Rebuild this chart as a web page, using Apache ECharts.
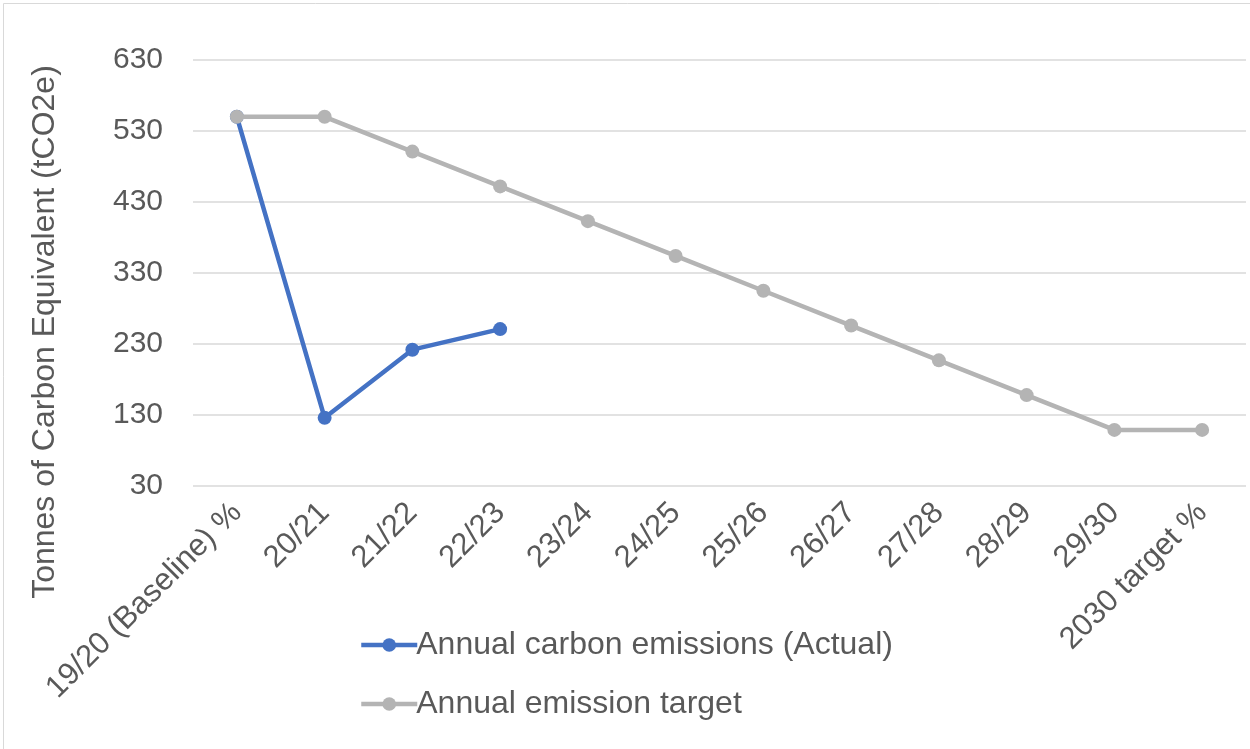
<!DOCTYPE html>
<html><head><meta charset="utf-8">
<script src="https://cdn.jsdelivr.net/npm/echarts@6/dist/echarts.min.js"></script>
<style>html,body{margin:0;padding:0;background:#fff}#c{width:1250px;height:749px}</style>
</head><body><div id="c"></div>
<script>
const categories = ['19/20 (Baseline) %','20/21','21/22','22/23','23/24','24/25','25/26','26/27','27/28','28/29','29/30','2030 target %'];
const actual = [550, 126, 222, 251, null, null, null, null, null, null, null, null];
const target = [550, 550, 501, 452, 403, 354, 305, 256, 207, 158, 109, 109];
const yTicks = [30, 130, 230, 330, 430, 530, 630];
const yTitle = 'Tonnes of Carbon Equivalent (tCO2e)';
const seriesNames = ['Annual carbon emissions (Actual)', 'Annual emission target'];

const chart = echarts.init(document.getElementById('c'));
const font = 'Arial, "Liberation Sans", sans-serif';
chart.setOption({
  animation: false,
  graphic: [
    {type:'rect', shape:{x:3.5,y:3.5,width:1260,height:760}, style:{fill:'none', stroke:'#d9d9d9', lineWidth:1}, silent:true},
    {type:'text', x: 45, y: 332, rotation: Math.PI/2, silent: true,
     style:{text: yTitle, fontSize: 32, fill:'#595959', fontFamily: font, align:'center', verticalAlign:'middle'}}
  ],
  grid: {left: 193, right: 4, top: 60, bottom: 263},
  legend: {
    orient: 'vertical', left: 354, top: 624, itemWidth: 56, itemHeight: 17, itemGap: 27,
    lineStyle: {width: 4.5},
    textStyle: {fontSize: 32, color: '#595959', fontFamily: font, padding:[0,0,0,-6]},
    data: seriesNames
  },
  xAxis: {
    type: 'category', data: categories, boundaryGap: true,
    axisLine: {show: false}, axisTick: {show: false},
    axisLabel: {rotate: 45, fontSize: 31, color: '#595959', fontFamily: font, margin: 22, interval: 0}
  },
  yAxis: {
    type: 'value', min: yTicks[0], max: yTicks[yTicks.length-1], interval: 100,
    axisLine: {show: false}, axisTick: {show: false},
    axisLabel: {fontSize: 30, color: '#595959', fontFamily: font, margin: 30},
    splitLine: {lineStyle: {color: '#d9d9d9', width: 1.5}}
  },
  series: [
    {name: seriesNames[0], type: 'line', data: actual, symbol: 'circle', symbolSize: 14, z: 3,
     lineStyle: {color: '#4472c4', width: 4.5}, itemStyle: {color: '#4472c4'}},
    {name: seriesNames[1], type: 'line', data: target, symbol: 'circle', symbolSize: 14, z: 4,
     lineStyle: {color: '#b4b4b4', width: 4.5}, itemStyle: {color: '#b4b4b4'}}
  ]
});
</script></body></html>
